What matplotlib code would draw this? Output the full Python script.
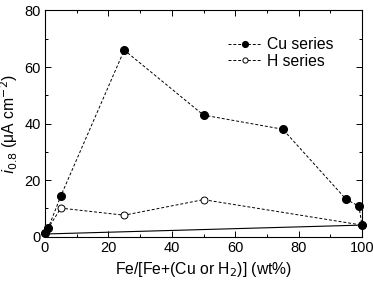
import matplotlib
matplotlib.use("Agg")
import matplotlib.pyplot as plt
from matplotlib.ticker import MultipleLocator

plt.rcParams['font.family'] = ['Liberation Sans', 'DejaVu Sans']

cu_x = [0, 1, 5, 25, 50, 75, 95, 99, 100]
cu_y = [1.2, 3.0, 14.4, 66, 43, 38, 13.2, 10.8, 4.1]
h_x = [0, 5, 25, 50, 100]
h_y = [1.2, 10.1, 7.6, 13.1, 4.1]
lin_x = [0, 100]
lin_y = [0.95, 4.1]

fig = plt.figure(figsize=(3.73, 2.81), dpi=100)
ax = fig.add_axes([0.1206, 0.1577, 0.850, 0.805])

ax.plot(lin_x, lin_y, '-', color='black', lw=0.8, clip_on=False)
ax.plot(h_x, h_y, '--', color='black', lw=0.7, dashes=(3, 2), marker='o', ms=5,
        mfc='white', mec='black', mew=0.7, label='H series', clip_on=False)
ax.plot(cu_x, cu_y, '--', color='black', lw=0.7, dashes=(3, 2), marker='o', ms=5.5,
        mfc='black', mec='black', label='Cu series', clip_on=False)

ax.set_xlim(0, 100)
ax.set_ylim(0, 80)
ax.xaxis.set_major_locator(MultipleLocator(20))
ax.xaxis.set_minor_locator(MultipleLocator(10))
ax.yaxis.set_major_locator(MultipleLocator(20))
ax.yaxis.set_minor_locator(MultipleLocator(10))
ax.tick_params(which='both', direction='in', top=True, right=True, labelsize=10.5)
ax.tick_params(which='major', length=4, width=0.7, pad=3)
ax.tick_params(which='minor', length=2, width=0.7)
for s in ax.spines.values():
    s.set_linewidth(0.8)

ax.set_xlabel('Fe/[Fe+(Cu or H$_2$)] (wt%)', fontsize=11.3, labelpad=4)
ax.set_ylabel('$\\mathit{i}_{0.8}$ (μA cm$^{-2}$)', fontsize=11.3, labelpad=3)

handles, labels = ax.get_legend_handles_labels()
ax.legend(handles[::-1], labels[::-1], loc='upper right', bbox_to_anchor=(0.955, 0.945),
          frameon=False, fontsize=11.3, handlelength=2.2, handletextpad=0.3,
          labelspacing=0.1, markerscale=0.75)

fig.savefig('out.png', dpi=100)
